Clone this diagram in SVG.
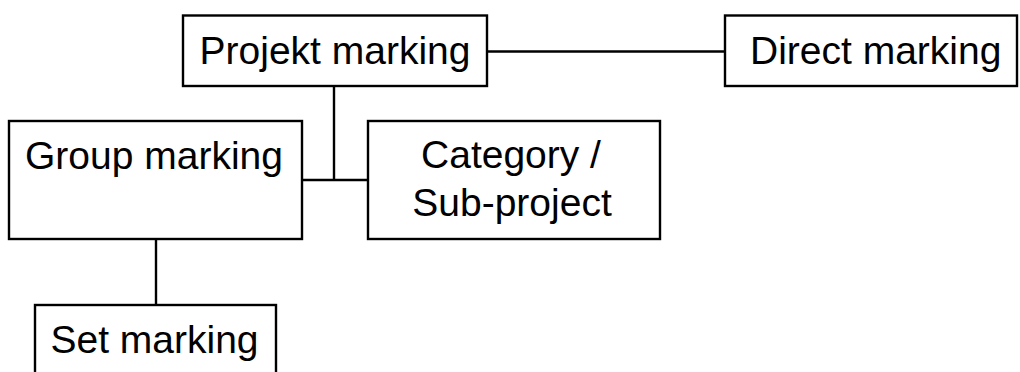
<svg xmlns="http://www.w3.org/2000/svg" width="1020" height="372" viewBox="0 0 1020 372">
<style>
.box{fill:#fff;stroke:#000;stroke-width:2.4}
.lbl{font-family:"Liberation Sans",Arial,sans-serif;font-size:39px;fill:#000}
.c{text-anchor:middle}
.con{stroke:#000;stroke-width:2.4;fill:none}
</style>
<rect width="1020" height="372" fill="#fff"/>
<g id="connectors">
<line class="con" x1="487" y1="51.5" x2="725" y2="51.5"/>
<line class="con" x1="334" y1="86" x2="334" y2="180"/>
<line class="con" x1="302" y1="180" x2="368" y2="180"/>
<line class="con" x1="156" y1="239" x2="156" y2="305"/>
</g>
<g id="projekt">
<rect class="box" x="183" y="15.5" width="304" height="70.5"/>
<text class="lbl c" x="335" y="63.5">Projekt marking</text>
</g>
<g id="direct">
<rect class="box" x="725" y="15.5" width="292" height="70.5"/>
<text class="lbl" x="750" y="63.5">Direct marking</text>
</g>
<g id="group">
<rect class="box" x="9" y="121" width="293" height="118"/>
<text class="lbl c" x="154" y="169">Group marking</text>
</g>
<g id="category">
<rect class="box" x="368" y="121" width="292" height="118"/>
<text class="lbl c" x="511" y="168">Category /</text>
<text class="lbl c" x="512" y="216">Sub-project</text>
</g>
<g id="set">
<rect class="box" x="35" y="305" width="241" height="80"/>
<text class="lbl c" x="154.5" y="353">Set marking</text>
</g>
</svg>
